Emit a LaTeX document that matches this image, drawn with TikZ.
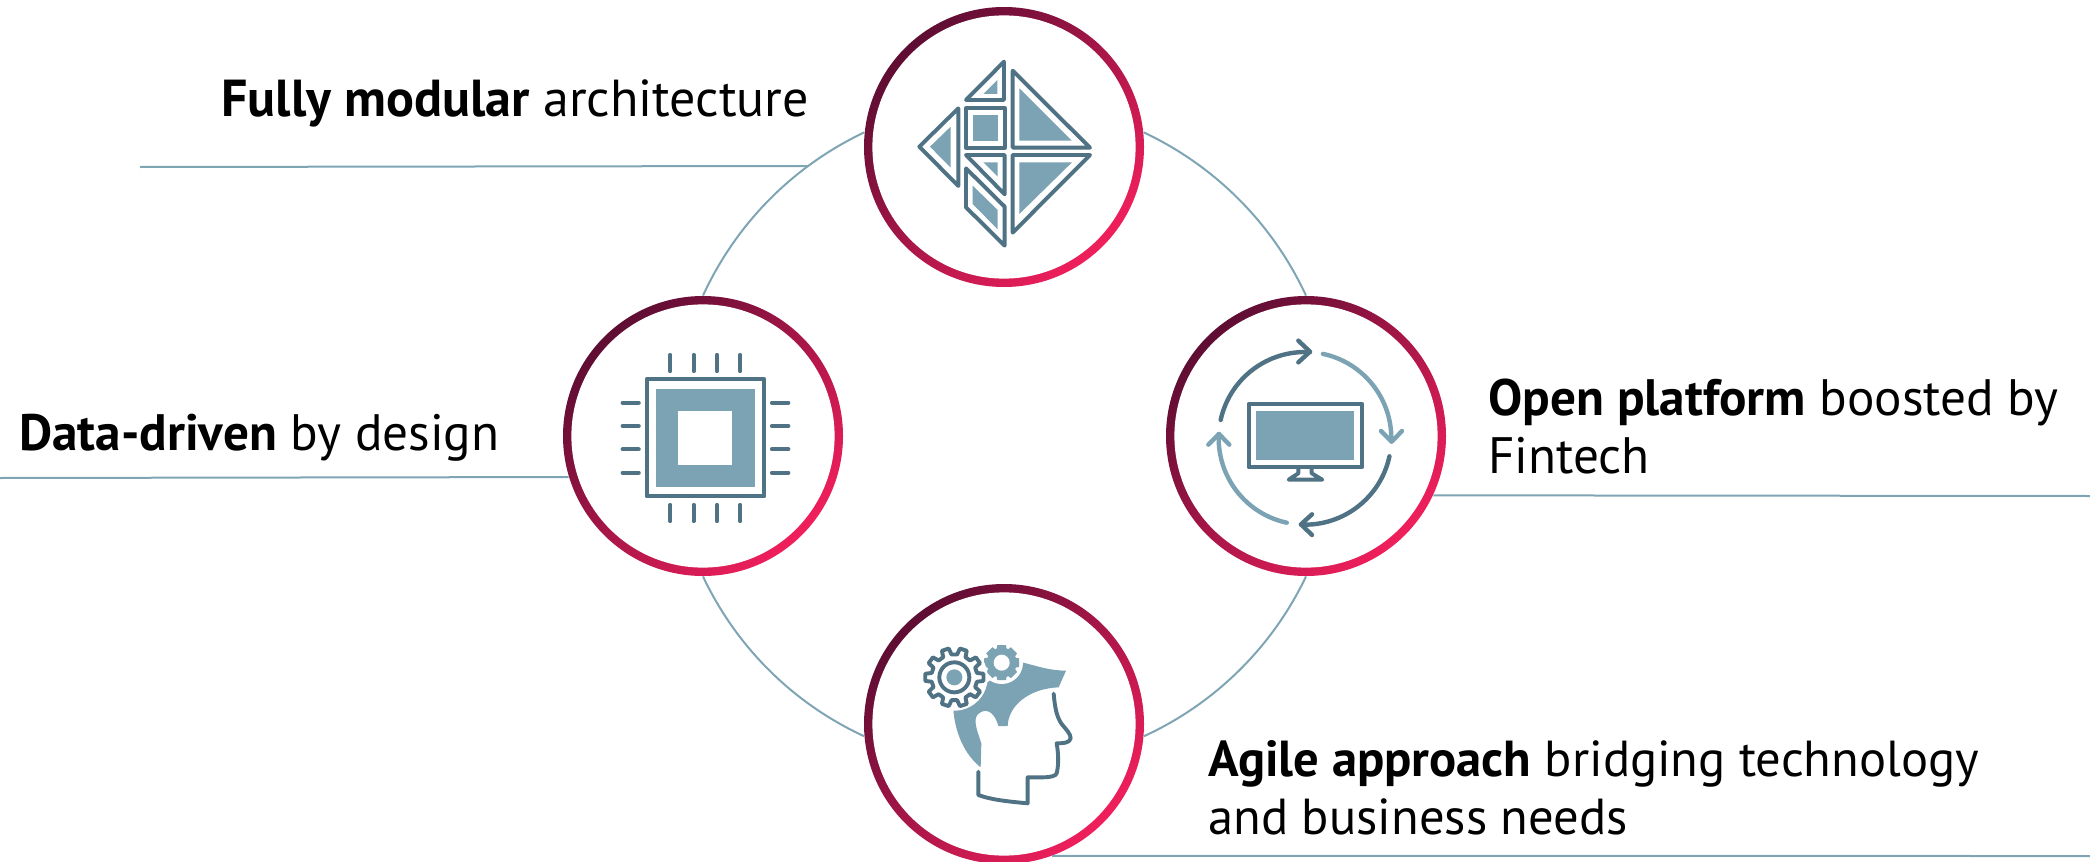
\documentclass[tikz,border=0pt]{standalone}
\usepackage{fontspec}
\setmainfont{PT Sans}
\definecolor{icondark}{HTML}{4F7384}
\definecolor{iconlight}{HTML}{7BA3B4}
\definecolor{wire}{HTML}{7FA5B5}
\definecolor{ringdark}{HTML}{5E0D33}
\definecolor{ringbright}{HTML}{F01F5C}
\tikzset{
  ringouter/.style={circle,draw=none,inner sep=0pt,minimum size=140pt,top color=ringdark,bottom color=ringbright,shading angle=45},
  ringinner/.style={circle,draw=none,fill=white,inner sep=0pt,minimum size=131.6pt},
  wireline/.style={draw=wire,line width=1pt},
  ringarc/.style={wireline,bend left=20,looseness=.88},
  dk/.style={draw=icondark,line width=1.95pt,line join=round,line cap=round},
  dkpin/.style={draw=icondark,line width=2.1pt,line cap=round},
  lt/.style={fill=iconlight,draw=none},
  ltarc/.style={draw=iconlight,line width=2.2pt,line cap=round,line join=round},
  dkarc/.style={draw=icondark,line width=2.2pt,line cap=round,line join=round},
  label/.style={anchor=base west,inner sep=0pt,font=\fontsize{25.6pt}{30pt}\selectfont,text=black},
  labelwide/.style={label,font=\fontsize{26pt}{30pt}\selectfont},
  labelnarrow/.style={label,font=\fontsize{25.3pt}{30pt}\selectfont},
}
\begin{document}
\begin{tikzpicture}[x=0.5pt,y=-0.5pt]
\path[use as bounding box] (0,0) rectangle (2090,862);
% rings
\node[ringouter] (ringT) at (1004,147) {};
\node[ringouter] (ringR) at (1306,436) {};
\node[ringouter] (ringL) at (703,436) {};
\node[ringouter] (ringB) at (1004,724) {};
\node[ringinner] (ringTin) at (ringT) {};
\node[ringinner] (ringRin) at (ringR) {};
\node[ringinner] (ringLin) at (ringL) {};
\node[ringinner] (ringBin) at (ringB) {};
% connectors
\draw[ringarc] (ringT.6) to (ringR.90);
\draw[ringarc] (ringR.-90) to (ringB.-5);
\draw[ringarc] (ringB.185) to (ringL.-90);
\draw[ringarc] (ringL.90) to (ringT.174);
\coordinate (endT1) at (140,167);
\coordinate (endT2) at (808,166);
\coordinate (endL) at (0,478);
\coordinate (endR) at (2090,496);
\coordinate (endB) at (2090,856);
\draw[wireline] (endT1) -- (endT2);
\draw[wireline] (endL) -- (ringL.197.5);
\draw[wireline] (ringR.-25.4) -- (endR);
\draw[wireline] (ringB.-70.5) -- (endB);
% labels
\node[labelwide] (txtT) at (221,116) {\textbf{Fully modular} architecture};
\node[label] (txtL) at (19,450) {\textbf{Data-driven} by design};
\node[label] (txtR1) at (1488,415) {\textbf{Open platform} boosted by};
\node[label] (txtR2) at (1488,473) {Fintech};
\node[labelnarrow] (txtB1) at (1208,776) {\textbf{Agile approach} bridging technology};
\node[labelnarrow] (txtB2) at (1208,834) {and business needs};
% modular icon
\begin{scope}[shift={(860,0)},scale=1/3]
\draw[dk] (432,185) -- (318,300) -- (432,300) -- cycle;
\fill[lt] (412,240) -- (370,282) -- (412,282) -- cycle;
\draw[dk] (318,325) rectangle (434,443);
\fill[lt] (338,345) rectangle (413,422);
\draw[dk] (295,325) -- (178,440) -- (295,558) -- cycle;
\fill[lt] (272,380) -- (210,440) -- (272,503) -- cycle;
\draw[dk] (458,212) -- (458,443) -- (690,443) -- cycle;
\fill[lt] (478,265) -- (478,422) -- (635,422) -- cycle;
\draw[dk] (458,465) -- (690,465) -- (458,698) -- cycle;
\fill[lt] (478,487) -- (636,487) -- (478,642) -- cycle;
\draw[dk] (318,465) -- (434,465) -- (434,583) -- cycle;
\fill[lt] (370,487) -- (413,487) -- (413,530) -- cycle;
\draw[dk] (318,505) -- (434,620) -- (434,737) -- (318,622) -- cycle;
\fill[lt] (338,557) -- (413,630) -- (413,688) -- (338,612) -- cycle;
\end{scope}
% chip icon
\begin{scope}[shift={(570,295)},scale=1/3]
\draw[dk] (230,252) rectangle (583,604);
\fill[lt] (258,281) rectangle (554,577);
\fill[white] (325,348) rectangle (487,510);
\foreach \p in {301,371,441,511}{
  \draw[dkpin] (\p,180) -- (\p,228);
  \draw[dkpin] (\p,630) -- (\p,678);
}
\foreach \p in {323,393,463,533}{
  \draw[dkpin] (158,\p) -- (206,\p);
  \draw[dkpin] (606,\p) -- (655,\p);
}
\end{scope}
% monitor icon
\begin{scope}[shift={(1170,295)},scale=1/3]
\draw[dk] (236,326) rectangle (576,517);
\fill[lt] (258,349) rectangle (553,494);
\draw[dk] (385,517) -- (385,535) -- (356,554) -- (457,554) -- (425,535) -- (425,517);
\draw[dkarc] (405,430) ++(192.3:259) arc[start angle=192.3,end angle=273.3,radius=259];
\draw[dkarc] (385,137) -- (420,170) -- (385,202);
\draw[ltarc] (405,430) ++(282:259) arc[start angle=282,end angle=362,radius=259];
\draw[ltarc] (633,408) -- (665,440) -- (696,408);
\draw[dkarc] (405,430) ++(12:259) arc[start angle=12,end angle=92.7,radius=259];
\draw[dkarc] (426,658) -- (393,688) -- (426,720);
\draw[ltarc] (405,430) ++(102.2:259) arc[start angle=102.2,end angle=182.9,radius=259];
\draw[ltarc] (115,449) -- (147,417) -- (178,449);
\end{scope}
% head icon
\begin{scope}[shift={(860,580)},scale=1/3]
\fill[lt] (280,388) .. controls (285,460) and (315,525) .. (362,562) -- (364,490)
  .. controls (350,450) and (340,420) .. (352,405) .. controls (370,385) and (400,385) .. (415,438)
  -- (443,438) .. controls (445,375) and (510,325) .. (596,322) -- (618,272)
  .. controls (570,272) and (530,258) .. (490,248) -- (430,270) -- (340,340) -- cycle;
% light gear
\begin{scope}[shift={(425,248)}]
\fill[white] (0,0) circle (64);
\fill[lt] (14:54) \foreach \a in {0,45,...,315}{ -- (\a+14:54) -- (\a+19:45) -- (\a+26:45) -- (\a+31:54) } -- cycle;
\fill[white] (0,0) circle (24);
\end{scope}
% dark gear
\begin{scope}[shift={(283,292)}]
\fill[white] (0,0) circle (100);
\draw[dk] (-7:88) \foreach \a in {0,36,...,324}{ -- (\a-7:88) -- (\a+7:88) -- (\a+11:69) -- (\a+25:69) } -- cycle;
\draw[dk] (0,0) circle (45);
\fill[lt] (0,0) circle (24);
\end{scope}
% face outline
\draw[dk] (581,341) .. controls (585,385) and (590,410) .. (605,432)
  .. controls (620,450) and (632,462) .. (632,475) .. controls (630,490) and (605,490) .. (590,490)
  .. controls (597,530) and (595,560) .. (590,580) .. controls (585,595) and (540,592) .. (503,592)
  -- (503,670) .. controls (450,665) and (395,660) .. (355,645) -- (355,575);
\end{scope}
\end{tikzpicture}
\end{document}
